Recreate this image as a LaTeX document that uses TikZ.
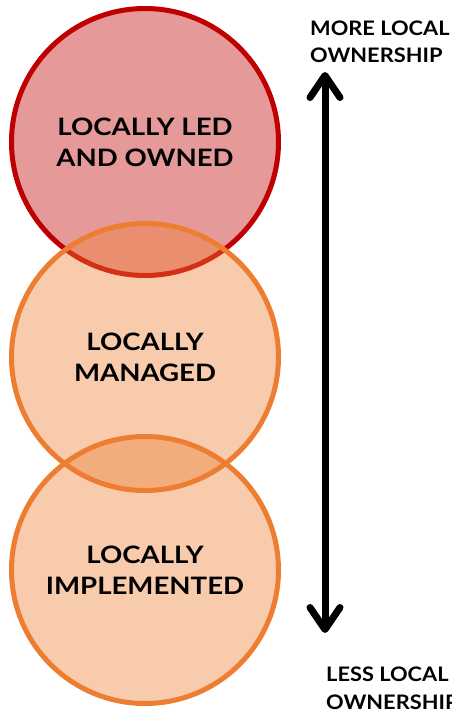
\documentclass[tikz,border=0pt]{standalone}
\usepackage{fontspec}
\setmainfont{Lato}
\newfontfamily\ringfont[FakeStretch=1.15]{Lato}
\newfontfamily\labelfont[FakeStretch=1.09]{Lato}
\usetikzlibrary{arrows.meta}
\definecolor{ledred}{HTML}{C00000}
\definecolor{mgdorange}{HTML}{ED7D31}
\tikzset{
  ring/.style={circle, minimum size=267pt, inner sep=0pt, line width=5pt,
    fill opacity=0.4, text opacity=1, align=center,
    font=\ringfont\fontsize{24}{31}\selectfont\bfseries},
  sidelabel/.style={anchor=north west, inner sep=0pt, align=left,
    font=\labelfont\fontsize{20}{27.5}\selectfont\bfseries},
  barb/.tip={Straight Barb[length=22pt, width=30pt, line width=7pt, round]}
}
\begin{document}
\begin{tikzpicture}[x=1pt, y=-1pt]
  \useasboundingbox (0,0) rectangle (452,710);
  % three overlapping levels of ownership
  \node[ring, draw=ledred, fill=ledred] (led) at (145,142) {LOCALLY LED\\AND OWNED};
  \node[ring, draw=mgdorange, fill=mgdorange] (managed) at (145,357) {LOCALLY\\MANAGED};
  \node[ring, draw=mgdorange, fill=mgdorange] (impl) at (145,570) {LOCALLY\\IMPLEMENTED};
  % scale from more to less local ownership
  \coordinate (up) at (325,72);
  \coordinate (down) at (325,633);
  \draw[line width=7pt, barb-barb] (up) -- (down);
  \node[sidelabel] (more) at (310,20.5) {MORE LOCAL\\OWNERSHIP};
  \node[sidelabel] (less) at (326,667) {LESS LOCAL\\OWNERSHIP};
\end{tikzpicture}
\end{document}
